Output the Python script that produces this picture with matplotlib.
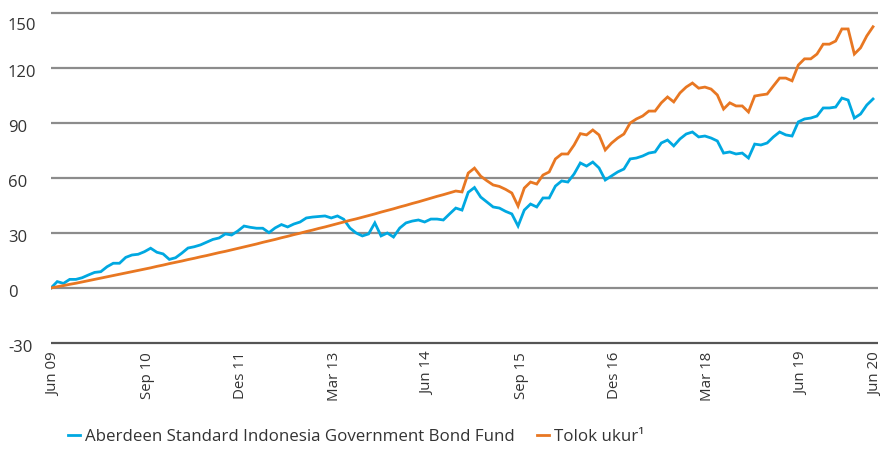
import numpy as np
import matplotlib
matplotlib.use("Agg")
import matplotlib.pyplot as plt
from matplotlib.transforms import ScaledTranslation

plt.rcParams['font.family'] = ['Open Sans', 'DejaVu Sans']

# Monthly cumulative performance (%), Jun 09 .. Jun 20
fund = [0, 3.5, 2.5, 4.7, 4.7, 5.6, 7.1, 8.5, 8.9, 11.6,
        13.5, 13.5, 16.7, 18.0, 18.4, 19.8, 21.7, 19.5, 18.6, 15.6,
        16.5, 19.0, 21.8, 22.5, 23.5, 25.0, 26.5, 27.3, 29.5, 28.9,
        31.1, 33.8, 33.1, 32.6, 32.6, 30.2, 32.8, 34.6, 33.3, 34.9,
        36.0, 38.2, 38.7, 39.0, 39.3, 38.2, 39.3, 37.5, 32.7, 30.0,
        28.4, 29.5, 35.5, 28.4, 30.0, 27.8, 32.7, 35.5, 36.5, 37.1,
        36.0, 37.6, 37.6, 37.1, 40.4, 43.6, 42.5, 52.2, 54.8, 49.6,
        46.9, 44.2, 43.6, 41.8, 40.4, 33.8, 42.5, 45.8, 44.2, 49.1,
        49.1, 55.6, 58.4, 57.8, 62.2, 68.2, 66.5, 68.7, 65.5, 58.9,
        61.1, 63.3, 64.9, 70.4, 70.9, 72.0, 73.6, 74.2, 79.1, 80.7,
        77.5, 81.3, 84.0, 85.1, 82.4, 82.9, 81.8, 80.2, 73.6, 74.2,
        73.1, 73.6, 70.9, 78.5, 78.0, 79.1, 82.4, 85.1, 83.5, 82.9,
        90.6, 92.2, 92.7, 93.8, 98.2, 98.2, 98.7, 103.6, 102.5, 92.7,
        94.9, 99.8, 103.1]

benchmark = [0.0, 0.7, 1.3, 2.0, 2.6, 3.3, 4.0, 4.7, 5.4, 6.1,
             6.8, 7.5, 8.2, 8.9, 9.6, 10.3, 11.0, 11.8, 12.5, 13.3,
             14.0, 14.7, 15.5, 16.2, 17.0, 17.7, 18.5, 19.3, 20.0, 20.8,
             21.6, 22.4, 23.2, 24.0, 24.9, 25.7, 26.5, 27.4, 28.2, 29.1,
             29.9, 30.8, 31.6, 32.5, 33.3, 34.2, 35.1, 36.0, 36.9, 37.7,
             38.6, 39.5, 40.4, 41.4, 42.3, 43.2, 44.2, 45.1, 46.1, 47.0,
             48.0, 49.0, 50.0, 50.9, 51.9, 52.9, 52.4, 62.7, 65.4, 61.0,
             58.5, 56.2, 55.4, 53.8, 51.8, 44.7, 54.5, 57.8, 56.7, 61.6,
             63.3, 70.4, 73.1, 73.1, 78.0, 84.2, 83.5, 86.2, 83.5, 75.3,
             79.0, 81.8, 84.0, 90.0, 92.2, 93.8, 96.5, 96.5, 101.0, 104.2,
             101.5, 106.4, 109.6, 111.8, 109.0, 109.6, 108.5, 105.3, 97.6, 101.0,
             99.3, 99.3, 96.0, 104.7, 105.3, 105.8, 110.2, 114.5, 114.5, 113.0,
             121.6, 125.0, 125.0, 127.6, 133.0, 133.0, 134.7, 141.3, 141.3, 127.6,
             131.0, 137.5, 142.5]

tick_months = [0, 15, 30, 45, 60, 75, 90, 105, 120, 132]
tick_labels = ["Jun 09", "Sep 10", "Des 11", "Mar 13", "Jun 14",
               "Sep 15", "Des 16", "Mar 18", "Jun 19", "Jun 20"]
y_ticks = [-30, 0, 30, 60, 90, 120, 150]

fund_label = "Aberdeen Standard Indonesia Government Bond Fund"
bench_label = "Tolok ukur\u00b9"

BLUE = "#00A8E1"
ORANGE = "#E87722"
TXT = "#333333"

W, H = 885, 454
fig = plt.figure(figsize=(W / 100, H / 100), dpi=100)
ylo, yhi = -31, 151
pxu = 330 / 180.0
top_px = 13 - 1 * pxu
bot_px = 343 + 1 * pxu
left_px, right_px = 51, 878
ax = fig.add_axes([left_px / W, 1 - bot_px / H, (right_px - left_px) / W, (bot_px - top_px) / H])

months = np.arange(len(fund))
for yv in y_ticks:
    ax.axhline(yv, color="#555555" if yv == -30 else "#8C8C8C", lw=1.6, zorder=1)

ax.plot(months, fund, color=BLUE, lw=2.0, label=fund_label, zorder=3, solid_joinstyle='miter')
ax.plot(months, benchmark, color=ORANGE, lw=2.0, label=bench_label, zorder=4, solid_joinstyle='miter')

ax.set_xlim(0, 132.8)
ax.set_ylim(ylo, yhi)
for s in ax.spines.values():
    s.set_visible(False)

ax.set_yticks(y_ticks)
ax.set_yticklabels([str(v) for v in y_ticks], ha='left', fontsize=12, color=TXT)
ax.tick_params(axis='y', length=0, pad=31)
for lab, v in zip(ax.get_yticklabels(), y_ticks):
    dy = -11 if v == 150 else -3
    lab.set_transform(lab.get_transform() + ScaledTranslation(0, dy / 100, fig.dpi_scale_trans))

ax.set_xticks(tick_months)
ax.set_xticklabels(tick_labels, rotation=90, fontsize=10.8, color=TXT)
ax.tick_params(axis='x', length=0, pad=5)
for lab in ax.get_xticklabels():
    lab.set_transform(lab.get_transform() + ScaledTranslation(3 / 100, 0, fig.dpi_scale_trans))

fig.legend(loc='center left', bbox_to_anchor=(68 / W, 1 - 437 / H), ncol=2, frameon=False,
           fontsize=12.2, handlelength=0.7, handletextpad=0.3, columnspacing=1.3,
           labelcolor=TXT, borderaxespad=0, borderpad=0)

fig.savefig("out.png", dpi=100)
